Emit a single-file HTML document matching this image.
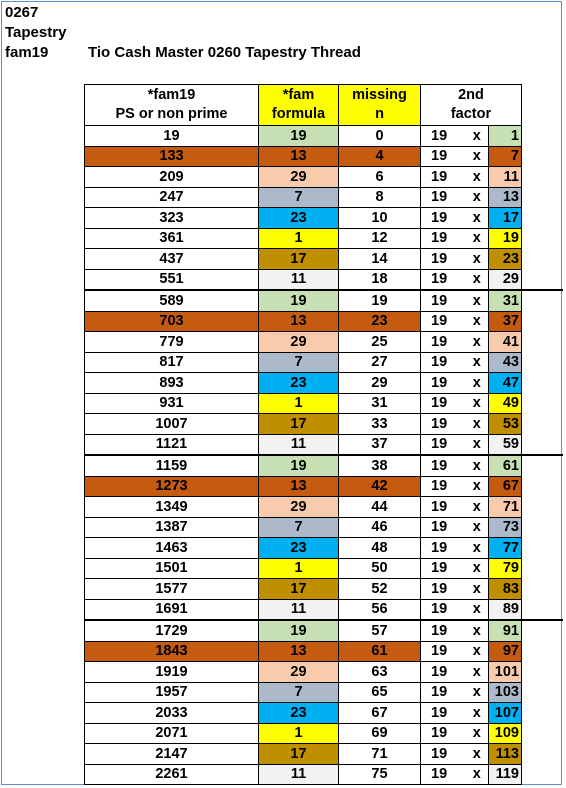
<!DOCTYPE html>
<html><head><meta charset="utf-8"><style>
body{margin:0;width:566px;height:788px;background:#fff;position:relative;overflow:hidden;font-family:"Liberation Sans",Arial,sans-serif;font-weight:bold;font-size:14.5px;color:#000}
#frame{position:absolute;left:1px;top:1px;width:561px;height:784px;border:1px solid #5b8fd0;box-sizing:border-box}
.t{position:absolute;left:5px;font-size:15px}
table{position:absolute;left:84px;top:84px;width:437px;border-collapse:collapse;table-layout:fixed}
td{border:1px solid #000;text-align:center;padding:0;height:19.5px;line-height:18px;white-space:nowrap;overflow:hidden}
th{border:1px solid #000;font-weight:bold;height:40px;line-height:19px;padding:0}
td.a{border-right:none;text-align:left;padding-left:10px}
td.x{border-left:none;border-right:none}
td.f{text-align:right;padding-right:2px}
tr.g td{border-top:2px solid #000}
.sep{position:absolute;left:521px;width:42px;height:2px;background:#000}
</style></head><body>
<div id="frame"></div>
<div class="t" style="top:4px">0267</div>
<div class="t" style="top:24px">Tapestry</div>
<div class="t" style="top:44px">fam19</div>
<div class="t" style="top:44px;left:88px">Tio Cash Master 0260 Tapestry Thread</div>
<table id="tbl">
<colgroup><col style="width:174px"><col style="width:80px"><col style="width:82px"><col style="width:45px"><col style="width:23px"><col style="width:33px"></colgroup>
<thead><tr>
<th>*fam19<br>PS or non prime</th>
<th style="background:#ffff00">*fam<br>formula</th>
<th style="background:#ffff00">missing<br>n</th>
<th colspan="3">2nd<br>factor</th>
</tr></thead><tbody id="tb"></tbody></table>
<script>
const factors=[1,7,11,13,17,19,23,29,31,37,41,43,47,49,53,59,61,67,71,73,77,79,83,89,91,97,101,103,107,109,113,119];
const missingN=[0,4,6,8,10,12,14,18,19,23,25,27,29,31,33,37,38,42,44,46,48,50,52,56,57,61,63,65,67,69,71,75];
const famValues=[19,13,29,7,23,1,17,11];
const famColors=["#c6e0b4","#c55a11","#f8cbad","#acb9ca","#00b0f0","#ffff00","#bf8f00","#f2f2f2"];
const tb=document.getElementById('tb');
factors.forEach((f,i)=>{
  const v=19*f, k=i%8, c=famColors[k], n=missingN[i];
  const tr=document.createElement('tr');
  
  
  if(k===0&&i>0)tr.className='g';
  const full=k===1;
  const cells=[[v,full?c:'',''],[famValues[k],c,''],[n,full?c:'',''],['19','','a'],['x','','x'],[f,c,'f']];
  const names=['value','fam-formula','missing-n','factor-19','times','second-factor'];
  cells.forEach((d,j)=>{const td=document.createElement('td');td.textContent=d[0];if(d[1])td.style.background=d[1];if(d[2])td.className=d[2];
    
    
    tr.appendChild(td);});
  tb.appendChild(tr);
});
[8,16,24].forEach(r=>{const rows=tb.rows;const y=rows[r].getBoundingClientRect().top;const d=document.createElement('div');d.className='sep';d.style.top=(y-1)+'px';
  
  
  document.body.appendChild(d);});
</script>
</body></html>
